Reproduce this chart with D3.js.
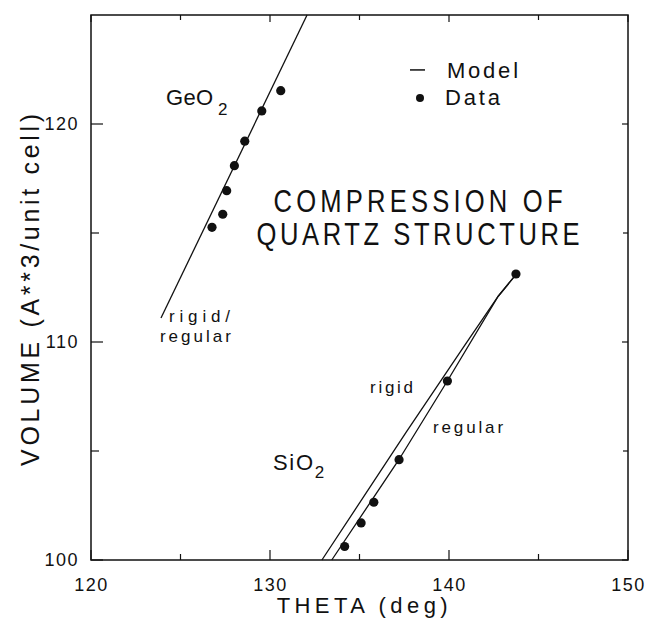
<!DOCTYPE html>
<html>
<head>
<meta charset="utf-8">
<script src="https://cdn.jsdelivr.net/npm/d3@7"></script>
<style>
  body { margin: 0; background: #fff; }
  svg text { font-family: "Liberation Sans", Arial, sans-serif; fill: #111; }
</style>
</head>
<body>
<div id="chart"></div>
<script>
// GeO2 data points
const geoTheta = [130.60, 129.54, 128.59, 128.01, 127.58, 127.36, 126.76];
const geoVolume = [121.53, 120.60, 119.21, 118.09, 116.94, 115.86, 115.26];

// GeO2 model (rigid / regular are the same line)
const geoModelTheta = [123.91, 132.07];
const geoModelVolume = [111.1, 125.0];

// SiO2 data points
const sioTheta = [143.74, 139.91, 137.21, 135.80, 135.09, 134.17];
const sioVolume = [113.12, 108.21, 104.60, 102.65, 101.70, 100.62];

// SiO2 models
const rigidTheta = [132.9, 137.6, 140.8, 142.75, 143.75];
const rigidVolume = [100.0, 105.85, 109.75, 112.1, 113.1];
const regularTheta = [133.45, 137.2, 139.9, 142.75, 143.75];
const regularVolume = [100.0, 104.6, 108.2, 112.1, 113.1];

// axes
const xDomain = [120, 150];
const yDomain = [100, 125];
const xTicks = [120, 130, 140, 150];
const yTicks = [100, 110, 120];

const W = 648, H = 619;
const margin = { top: 15, right: 20, bottom: 59, left: 91 };
const width = W - margin.left - margin.right;
const height = H - margin.top - margin.bottom;

const svg = d3.select("#chart").append("svg")
    .attr("width", W).attr("height", H);
const g = svg.append("g")
    .attr("transform", `translate(${margin.left},${margin.top})`);

const x = d3.scaleLinear().domain(xDomain).range([0, width]);
const y = d3.scaleLinear().domain(yDomain).range([height, 0]);

// frame
g.append("rect")
    .attr("width", width).attr("height", height)
    .attr("fill", "none").attr("stroke", "#111").attr("stroke-width", 1.5);

// inward ticks on every side
const minorX = d3.range(125, 150, 10);
const minorY = d3.range(105, 125, 10);
function ticks(vals, len, side) {
    vals.forEach(v => {
        const l = g.append("line").attr("stroke", "#111").attr("stroke-width", 1.2);
        if (side === "bottom") l.attr("x1", x(v)).attr("x2", x(v)).attr("y1", height).attr("y2", height - len);
        if (side === "top") l.attr("x1", x(v)).attr("x2", x(v)).attr("y1", 0).attr("y2", len);
        if (side === "left") l.attr("y1", y(v)).attr("y2", y(v)).attr("x1", 0).attr("x2", len);
        if (side === "right") l.attr("y1", y(v)).attr("y2", y(v)).attr("x1", width).attr("x2", width - len);
    });
}
ticks(xTicks, 10, "bottom"); ticks(minorX, 6, "bottom");
ticks(xTicks, 7, "top"); ticks(minorX, 5, "top");
ticks(yTicks, 12, "left"); ticks(minorY, 8, "left");
ticks(yTicks, 6, "right"); ticks(minorY, 5, "right");

// tick labels through d3 axes
const xAxis = g.append("g")
    .attr("transform", `translate(0,${height})`)
    .call(d3.axisBottom(x).tickValues(xTicks).tickSize(0).tickPadding(12));
const yAxis = g.append("g")
    .call(d3.axisLeft(y).tickValues(yTicks).tickSize(0).tickPadding(12));
[xAxis, yAxis].forEach(a => {
    a.select(".domain").remove();
    a.selectAll("text")
        .attr("fill", "#111")
        .style("font-family", '"Liberation Sans", Arial, sans-serif')
        .style("font-size", "18px")
        .style("letter-spacing", "1.5px");
});
xAxis.selectAll("text").attr("dy", "1.05em");

// axis titles
g.append("text")
    .attr("x", x(135.15)).attr("y", height + 53)
    .attr("text-anchor", "middle")
    .attr("font-size", 22)
    .attr("textLength", 171).attr("lengthAdjust", "spacing")
    .text("THETA (deg)");
g.append("text")
    .attr("transform", `translate(${-52},${y(112.39)}) rotate(-90)`)
    .attr("text-anchor", "middle")
    .attr("font-size", 25)
    .attr("textLength", 352).attr("lengthAdjust", "spacing")
    .text("VOLUME (A**3/unit cell)");

// model lines
const line = d3.line().x(d => x(d[0])).y(d => y(d[1]));
const models = [
    d3.zip(geoModelTheta, geoModelVolume),
    d3.zip(rigidTheta, rigidVolume),
    d3.zip(regularTheta, regularVolume)
];
g.selectAll(".model")
    .data(models)
    .enter().append("path")
    .attr("class", "model")
    .attr("fill", "none")
    .attr("stroke", "#111")
    .attr("stroke-width", 1.3)
    .attr("d", line);

// data points
const points = d3.zip(geoTheta, geoVolume).concat(d3.zip(sioTheta, sioVolume));
g.selectAll(".pt")
    .data(points)
    .enter().append("circle")
    .attr("class", "pt")
    .attr("cx", d => x(d[0]))
    .attr("cy", d => y(d[1]))
    .attr("r", 4.6)
    .attr("fill", "#111");

// annotations at (theta, volume)
function note(t, v, txt, size, len, anchor, sx) {
    sx = sx || 1;
    const el = g.append("text")
        .attr("transform", `translate(${x(t)},${y(v)}) scale(${sx},1)`)
        .attr("font-size", size)
        .attr("text-anchor", anchor || "start")
        .text(txt);
    if (len) el.attr("textLength", len / sx).attr("lengthAdjust", "spacing");
    return el;
}
note(124.19, 120.87, "GeO", 22, 47);
note(127.1, 120.41, "2", 17);
note(124.36, 110.92, "rigid/", 17, 61);
note(123.85, 110.0, "regular", 17, 71);
note(135.59, 107.66, "rigid", 17, 43);
note(139.11, 105.83, "regular", 17, 70);
note(130.17, 104.13, "SiO", 22, 40);
note(132.5, 103.77, "2", 17);

note(138.27, 115.96, "COMPRESSION OF", 32, 289, "middle", 0.8);
note(138.27, 114.45, "QUARTZ STRUCTURE", 32, 323, "middle", 0.8);

// legend
g.append("line")
    .attr("x1", x(137.82)).attr("x2", x(138.66))
    .attr("y1", y(122.48)).attr("y2", y(122.48))
    .attr("stroke", "#111").attr("stroke-width", 1.5);
note(139.89, 122.11, "Model", 22, 71);
g.append("circle")
    .attr("cx", x(138.38)).attr("cy", y(121.19)).attr("r", 4)
    .attr("fill", "#111");
note(139.78, 120.87, "Data", 22, 55);
</script>
</body>
</html>
